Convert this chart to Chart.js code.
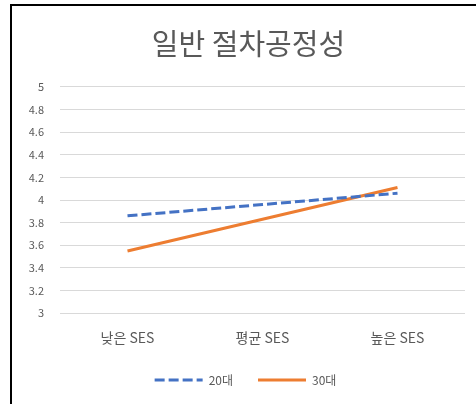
<!DOCTYPE html>
<html>
<head>
<meta charset="utf-8">
<script src="https://cdn.jsdelivr.net/npm/chart.js@4"></script>
<style>
  html, body { margin: 0; padding: 0; background: #fff; }
  #frame { position: absolute; left: 10px; top: 4px; width: 466px; height: 400px;
           border-left: 2px solid #000; border-top: 2px solid #000; box-sizing: border-box; }
  #wrap { position: absolute; left: 12px; top: 6px; width: 464px; height: 398px; }
</style>
</head>
<body>
<div id="frame"></div>
<div id="wrap"><canvas id="chart"></canvas></div>
<script>
const categories = ["낮은 SES", "평균 SES", "높은 SES"];
const series20 = [3.86, 3.96, 4.06];
const series30 = [3.55, 3.83, 4.11];
const yTicks = [3, 3.2, 3.4, 3.6, 3.8, 4, 4.2, 4.4, 4.6, 4.8, 5];

const fontFamily = "'Noto Sans CJK KR', 'Noto Sans', sans-serif";
const textColor = "#595959";

// nudge legend and title after layout, Excel-like placement
const nudgeBoxes = {
    id: "nudgeBoxes",
    afterLayout(chart) {
        const lg = chart.legend;
        lg.top -= 5; lg.bottom -= 5;
        lg.left += 7; lg.right += 7;
        const t = chart.titleBlock;
        t.left += 10; t.right += 10;
    },
};

const chart = new Chart(document.getElementById("chart"), {
    type: "line",
    plugins: [nudgeBoxes],
    data: {
        labels: categories,
        datasets: [
            {
                label: "20대",
                data: series20,
                borderColor: "#4472C4",
                backgroundColor: "#4472C4",
                borderWidth: 3,
                borderDash: [10, 4],
                pointRadius: 0,
                tension: 0,
            },
            {
                label: "30대",
                data: series30,
                borderColor: "#ED7D31",
                backgroundColor: "#ED7D31",
                borderWidth: 3,
                pointRadius: 0,
                tension: 0,
            }
        ],
    },
    options: {
        responsive: true,
        maintainAspectRatio: false,
        animation: false,
        layout: { padding: { left: 0, right: 11, top: 10, bottom: 3 } },
        plugins: {
            tooltip: { enabled: false },
            title: {
                display: true,
                text: "일반 절차공정성",
                color: textColor,
                font: { family: fontFamily, size: 29, weight: "normal" },
                padding: { top: 11, bottom: 25 },
            },
            legend: {
                position: "bottom",
                labels: {
                    color: textColor,
                    font: { family: fontFamily, size: 12 },
                    usePointStyle: true,
                    pointStyle: "line",
                    pointStyleWidth: 48,
                    padding: 25,
                    generateLabels: (c) => {
                        const items = Chart.defaults.plugins.legend.labels.generateLabels(c);
                        items.forEach((item) => {
                            const ds = c.data.datasets[item.datasetIndex];
                            item.lineDash = ds.borderDash || [];
                            item.lineWidth = ds.borderWidth;
                            item.strokeStyle = ds.borderColor;
                        });
                        return items;
                    },
                },
            },
        },
        scales: {
            x: {
                offset: true,
                grid: { display: false },
                border: { display: false },
                ticks: { color: textColor, font: { family: fontFamily, size: 14 }, padding: 8 },
            },
            y: {
                min: 3,
                max: 5,
                afterBuildTicks: (axis) => { axis.ticks = yTicks.map(v => ({ value: v })); },
                afterFit: (axis) => { axis.width = 48; },
                grid: { color: "#d9d9d9", drawTicks: false },
                border: { display: false },
                ticks: {
                    color: textColor,
                    font: { family: fontFamily, size: 11 },
                    padding: 16,
                    callback: (v) => String(Math.round(v * 10) / 10),
                },
            },
        },
    },
});
</script>
</body>
</html>
